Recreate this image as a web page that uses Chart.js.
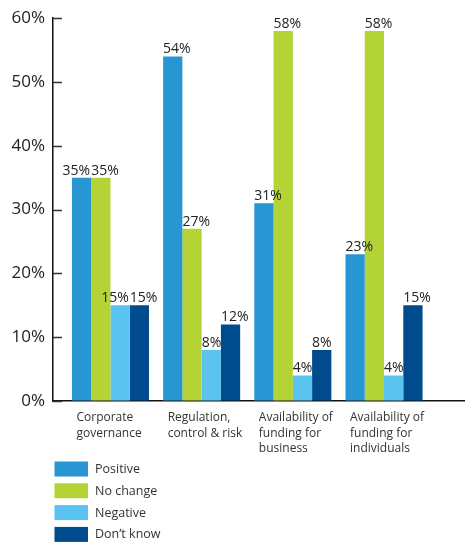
<!DOCTYPE html>
<html>
<head>
<meta charset="utf-8">
<script src="https://cdn.jsdelivr.net/npm/chart.js@4.4.1/dist/chart.umd.min.js"></script>
<style>
  html, body { margin: 0; padding: 0; background: #fff; }
  #wrap { width: 465px; height: 542px; position: relative; }
</style>
</head>
<body>
<div id="wrap"><canvas id="c" width="465" height="542"></canvas></div>
<script>
// Survey responses by area (% of respondents)
const categories = [
  ["Corporate", "governance"],
  ["Regulation,", "control & risk"],
  ["Availability of", "funding for", "business"],
  ["Availability of", "funding for", "individuals"]
];
const seriesNames = ["Positive", "No change", "Negative", "Don\u2019t know"];
const positive = [35, 54, 31, 23];
const noChange = [35, 27, 58, 58];
const negative = [15, 8, 4, 4];
const dontKnow = [15, 12, 8, 15];
const yTicks = [0, 10, 20, 30, 40, 50, 60];

const seriesValues = [positive, noChange, negative, dontKnow];
const seriesColors = ["#2996d4", "#b4d335", "#5bc3f0", "#004b8d"];

const FONT = "'Open Sans', 'DejaVu Sans', sans-serif";

// Short tick marks pointing into the plot from the value axis
const innerTicks = {
  id: "innerTicks",
  afterDatasetsDraw(chart) {
    const { ctx, chartArea, scales } = chart;
    ctx.save();
    ctx.strokeStyle = "#333";
    ctx.lineWidth = 1.5;
    yTicks.forEach(v => {
      const y = Math.round(scales.y.getPixelForValue(v)) + 0.5;
      ctx.beginPath();
      ctx.moveTo(chartArea.left, y);
      ctx.lineTo(chartArea.left + 9, y);
      ctx.stroke();
    });
    ctx.restore();
  }
};

// Percentage labels above each bar; a label that would run into its
// right-hand neighbour at the same height is nudged to the left.
const valueLabels = {
  id: "valueLabels",
  afterDatasetsDraw(chart) {
    const { ctx } = chart;
    ctx.save();
    ctx.font = "14px " + FONT;
    ctx.fillStyle = "#222";
    ctx.textAlign = "left";
    ctx.textBaseline = "alphabetic";
    const nSeries = chart.data.datasets.length;
    categories.forEach((_, i) => {
      const items = [];
      for (let di = 0; di < nSeries; di++) {
        const bar = chart.getDatasetMeta(di).data[i];
        const text = seriesValues[di][i] + "%";
        items.push({ text, x: bar.x - bar.width / 2, y: bar.y - 3, w: ctx.measureText(text).width });
      }
      for (let k = items.length - 2; k >= 0; k--) {
        const a = items[k], b = items[k + 1];
        const sameRow = Math.abs(a.y - b.y) < 12;
        const overlap = a.x + a.w + 1 - b.x;
        if (sameRow && overlap > 0) a.x -= overlap;
      }
      items.forEach(it => ctx.fillText(it.text, it.x, it.y));
    });
    ctx.restore();
  }
};

// Vertical legend in the lower-left corner
const boxLegend = {
  id: "boxLegend",
  afterDraw(chart) {
    const { ctx } = chart;
    ctx.save();
    ctx.font = "12.5px " + FONT;
    ctx.textAlign = "left";
    ctx.textBaseline = "middle";
    chart.data.datasets.forEach((ds, i) => {
      const top = 461.5 + i * 21.8;
      ctx.fillStyle = ds.backgroundColor;
      ctx.fillRect(54.5, top, 33.5, 15);
      ctx.fillStyle = "#333";
      ctx.fillText(ds.label, 95, top + 8);
    });
    ctx.restore();
  }
};

const datasets = seriesNames.map((name, s) => ({
  label: name,
  data: seriesValues[s].map((v, i) => ({ x: i, y: v })),
  backgroundColor: seriesColors[s],
  borderWidth: 0,
  categoryPercentage: 0.845,
  barPercentage: 1.0
}));

new Chart(document.getElementById("c"), {
  type: "bar",
  data: { datasets },
  plugins: [innerTicks, valueLabels, boxLegend],
  options: {
    responsive: false,
    animation: false,
    devicePixelRatio: 1,
    layout: { padding: { top: 18, right: 0, bottom: 0, left: 0 } },
    plugins: {
      legend: { display: false },
      tooltip: { enabled: false }
    },
    scales: {
      x: {
        type: "linear",
        offset: false,
        min: -0.63,
        max: 3.888,
        afterBuildTicks: s => { s.ticks = categories.map((_, i) => ({ value: i })); },
        afterFit: s => { s.height = 141; s.paddingRight = 0; s.paddingLeft = 0; },
        grid: { drawOnChartArea: false, drawTicks: false },
        border: { color: "#111", width: 1.5 },
        ticks: {
          autoSkip: false,
          maxRotation: 0,
          minRotation: 0,
          align: "start",
          labelOffset: -34,
          padding: 9,
          color: "#333",
          font: { family: FONT, size: 12, lineHeight: 1.3 },
          callback: v => categories[v]
        }
      },
      y: {
        min: 0,
        max: 60,
        afterBuildTicks: s => { s.ticks = yTicks.map(v => ({ value: v })); },
        afterFit: s => { s.width = 53; },
        grid: { drawOnChartArea: false, drawTicks: false },
        border: { color: "#111", width: 1.5 },
        ticks: {
          padding: 8,
          color: "#222",
          font: { family: FONT, size: 17 },
          callback: v => v + "%"
        }
      }
    }
  }
});
</script>
</body>
</html>
